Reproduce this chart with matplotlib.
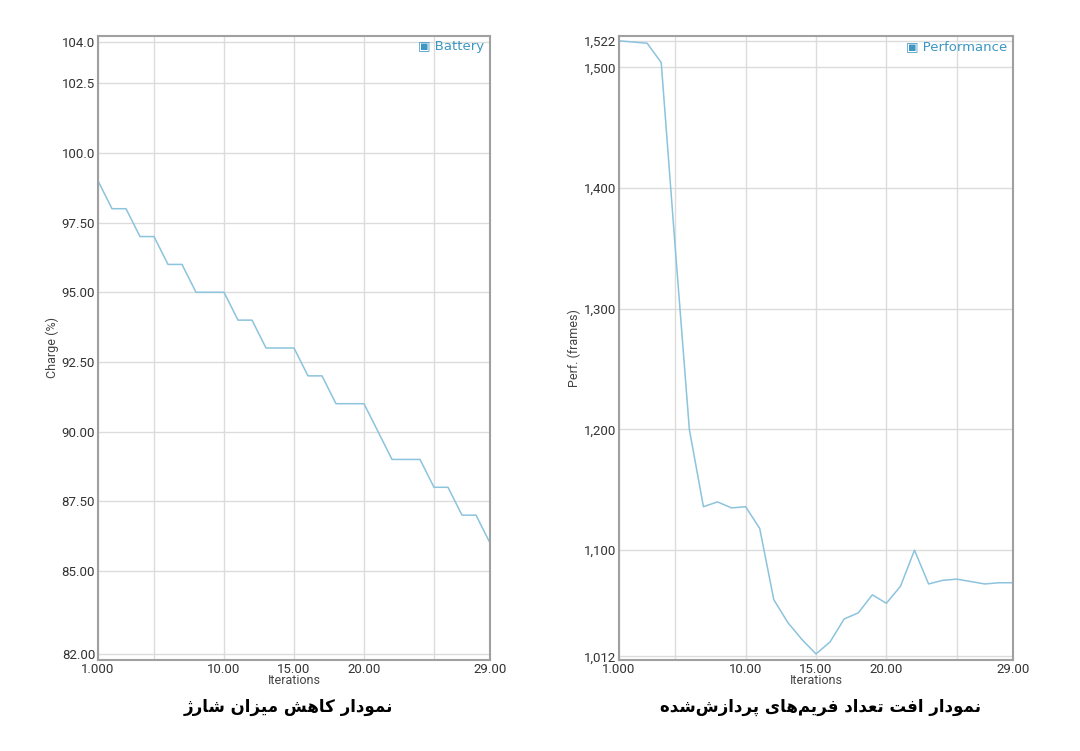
import matplotlib
matplotlib.use("Agg")
import matplotlib.pyplot as plt
from matplotlib.ticker import FixedLocator, FixedFormatter

iterations = list(range(1, 30))
battery = [99, 98, 98, 97, 97, 96, 96, 95, 95, 95, 94, 94, 93, 93, 93, 92, 92, 91, 91, 91,
           90, 89, 89, 89, 88, 88, 87, 87, 86]
performance = [1522, 1521, 1520, 1504, 1350, 1200, 1136, 1140, 1135, 1136, 1118, 1059, 1040,
               1026, 1014, 1024, 1043, 1048, 1063, 1056, 1070, 1100, 1072, 1075, 1076, 1074,
               1072, 1073, 1073]
x_ticks = [1, 5, 10, 15, 20, 25, 29]
x_labels = ["1.000", "", "10.00", "15.00", "20.00", "", "29.00"]
bat_ticks = [82, 85, 87.5, 90, 92.5, 95, 97.5, 100, 102.5, 104]
bat_labels = ["82.00", "85.00", "87.50", "90.00", "92.50", "95.00", "97.50", "100.0", "102.5", "104.0"]
perf_ticks = [1012, 1100, 1200, 1300, 1400, 1500, 1522]
perf_labels = ["1,012", "1,100", "1,200", "1,300", "1,400", "1,500", "1,522"]
title_left = "نمودار کاهش میزان شارژ"
title_right = "نمودار افت تعداد فریم‌های پردازش‌شده"

FORMS = {
    'ا': (0xFE8D, 0xFE8E), 'د': (0xFEA9, 0xFEAA), 'ر': (0xFEAD, 0xFEAE),
    'ز': (0xFEAF, 0xFEB0), 'ژ': (0xFB8A, 0xFB8B), 'و': (0xFEED, 0xFEEE),
    'ن': (0xFEE5, 0xFEE6, 0xFEE7, 0xFEE8), 'م': (0xFEE1, 0xFEE2, 0xFEE3, 0xFEE4),
    'ک': (0xFB8E, 0xFB8F, 0xFB90, 0xFB91), 'ه': (0xFEE9, 0xFEEA, 0xFEEB, 0xFEEC),
    'ش': (0xFEB5, 0xFEB6, 0xFEB7, 0xFEB8), 'ی': (0xFBFC, 0xFBFD, 0xFBFE, 0xFBFF),
    'ف': (0xFED1, 0xFED2, 0xFED3, 0xFED4), 'ت': (0xFE95, 0xFE96, 0xFE97, 0xFE98),
    'ع': (0xFEC9, 0xFECA, 0xFECB, 0xFECC), 'پ': (0xFB56, 0xFB57, 0xFB58, 0xFB59),
}

def shape(s):
    out = []
    n = len(s)
    for i, c in enumerate(s):
        if c == '\u200c':
            continue
        if c not in FORMS:
            out.append(c)
            continue
        prev = s[i - 1] if i > 0 else ''
        nxt = s[i + 1] if i + 1 < n else ''
        jp = prev in FORMS and len(FORMS[prev]) == 4
        jn = len(FORMS[c]) == 4 and nxt in FORMS
        f = FORMS[c]
        if jp and jn:
            g = f[3]
        elif jp:
            g = f[1]
        elif jn:
            g = f[2]
        else:
            g = f[0]
        out.append(chr(g))
    return ''.join(out[::-1])

plt.rcParams['font.family'] = ['Roboto', 'DejaVu Sans']
fig = plt.figure(figsize=(10.8, 7.51), dpi=100)
W, H = 1080, 751
line_c = '#8cc3dd'
leg_c = '#3d97c2'

def setup(ax, ticks, labels, ylim, ylabel, legend):
    ax.set_xlim(1, 29)
    ax.set_ylim(*ylim)
    ax.xaxis.set_major_locator(FixedLocator(x_ticks))
    ax.xaxis.set_major_formatter(FixedFormatter(x_labels))
    ax.yaxis.set_major_locator(FixedLocator(ticks))
    ax.yaxis.set_major_formatter(FixedFormatter(labels))
    ax.grid(True, color='#dcdcdc', lw=1)
    ax.tick_params(length=0, labelsize=9.5, colors='#333333', pad=2)
    for s in ax.spines.values():
        s.set_color('#a0a0a0')
        s.set_linewidth(1.5)
    ax.set_xlabel('Iterations', fontsize=9, color='#444444', labelpad=-1)
    ax.set_ylabel(ylabel, fontsize=9, color='#444444', labelpad=2)
    ax.text(0.985, 0.993, '\u25A3 ' + legend, transform=ax.transAxes, ha='right', va='top',
            color=leg_c, fontsize=9.5, family=['DejaVu Sans'])

ax1 = fig.add_axes([98 / W, 1 - 660 / H, 392 / W, 624 / H])
ax1.plot(iterations, battery, color=line_c, lw=1.1)
setup(ax1, bat_ticks, bat_labels, (81.8, 104.2), 'Charge (%)', 'Battery')

ax2 = fig.add_axes([619 / W, 1 - 660 / H, 394 / W, 624 / H])
ax2.plot(iterations, performance, color=line_c, lw=1.1)
setup(ax2, perf_ticks, perf_labels, (1009, 1526), 'Perf. (frames)', 'Performance')

fig.text(288 / W, 1 - 707 / H, shape(title_left), ha='center', va='center', fontsize=12,
         fontweight='bold', family=['DejaVu Sans'])
fig.text(820 / W, 1 - 707 / H, shape(title_right), ha='center', va='center', fontsize=12,
         fontweight='bold', family=['DejaVu Sans'])
fig.savefig('out.png', dpi=100, facecolor='white')
